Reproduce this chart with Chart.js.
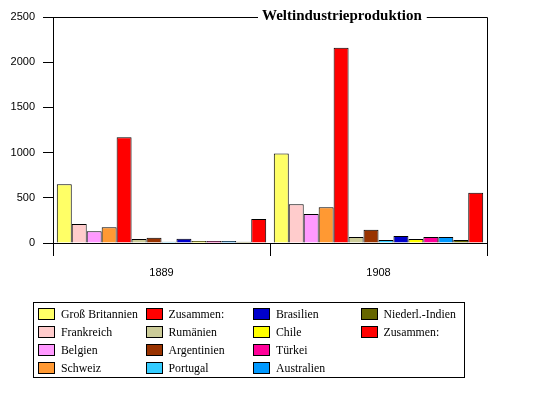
<!DOCTYPE html>
<html>
<head>
<meta charset="utf-8">
<script src="https://cdn.jsdelivr.net/npm/chart.js@4"></script>
<style>
  body { margin: 0; background: #fff; }
  #wrap { position: relative; width: 541px; height: 395px; }
  #legende {
    position: absolute; left: 33px; top: 302px; width: 432px; height: 76px;
    border: 1px solid #000;
    display: grid; grid-template-rows: repeat(4, 18px); grid-template-columns: repeat(4, 107.5px);
    grid-auto-flow: column; padding-top: 4px; padding-left: 4px; box-sizing: border-box;
    font-family: "Liberation Serif", serif; font-size: 11.8px; color: #000;
  }
  #legende div { display: flex; align-items: center; height: 14px; white-space: nowrap; }
  #legende span.box { width: 15px; height: 10px; border: 1px solid #000; margin-right: 6px; flex: none; }
</style>
</head>
<body>
<div id="wrap">
  <canvas id="chart" width="541" height="395"></canvas>
  <div id="legende"></div>
</div>
<script>
// Daten
const jahre = ['1889', '1908'];
const laender = ['Groß Britannien', 'Frankreich', 'Belgien', 'Schweiz', 'Zusammen:', 'Rumänien', 'Argentinien',
  'Portugal', 'Brasilien', 'Chile', 'Türkei', 'Australien', 'Niederl.-Indien', 'Zusammen:'];
const werte1889 = [650, 210, 130, 175, 1170, 45, 58, 14, 47, 22, 22, 22, 14, 265];
const werte1908 = [990, 430, 320, 395, 2160, 66, 147, 33, 77, 44, 66, 66, 33, 555];
const yTicks = [0, 500, 1000, 1500, 2000, 2500];

const farben = ['#ffff66', '#ffcccc', '#ff99ff', '#ff9933', '#ff0000', '#cccc99', '#993300',
  '#33ccff', '#0000cc', '#ffff00', '#ff0099', '#0099ff', '#666600', '#ff0000'];

// Rahmen + Titel
const rahmen = {
  id: 'rahmen',
  afterDraw(chart) {
    const { ctx, chartArea: a } = chart;
    const titel = 'Weltindustrieproduktion';
    ctx.save();
    ctx.font = 'bold 15px "Liberation Serif", serif';
    ctx.fillStyle = '#000';
    ctx.textBaseline = 'middle';
    const tx = 262;
    const tw = ctx.measureText(titel).width;
    ctx.fillText(titel, tx, a.top - 1);
    ctx.strokeStyle = '#000';
    ctx.lineWidth = 1;
    ctx.beginPath();
    ctx.moveTo(a.left, a.top + 0.5);
    ctx.lineTo(tx - 4, a.top + 0.5);
    ctx.moveTo(tx + tw + 5, a.top + 0.5);
    ctx.lineTo(a.right + 0.5, a.top + 0.5);
    ctx.lineTo(a.right + 0.5, a.bottom);
    ctx.stroke();
    ctx.restore();
  }
};

new Chart(document.getElementById('chart'), {
  type: 'bar',
  data: {
    labels: jahre,
    datasets: laender.map((l, i) => ({
      label: l,
      data: [werte1889[i], werte1908[i]],
      backgroundColor: farben[i],
      borderColor: '#000',
      borderWidth: 1,
      categoryPercentage: 0.965,
      barPercentage: 1
    }))
  },
  options: {
    responsive: false,
    animation: false,
    layout: { padding: { left: 0, right: 54, top: 17, bottom: 112 } },
    plugins: { legend: { display: false }, tooltip: { enabled: false } },
    scales: {
      x: {
        afterFit: s => { s.height = 40; },
        grid: { drawOnChartArea: false, tickLength: 13, color: '#000', offset: true },
        border: { color: '#000' },
        ticks: { color: '#000', padding: 10, font: { family: '"Liberation Sans", sans-serif', size: 11 } }
      },
      y: {
        min: 0, max: 2500,
        afterFit: s => { s.width = 53; },
        afterBuildTicks: s => { s.ticks = yTicks.map(v => ({ value: v })); },
        grid: { drawOnChartArea: false, tickLength: 10, color: '#000' },
        border: { color: '#000' },
        ticks: {
          color: '#000', padding: 8,
          font: { family: '"Liberation Sans", sans-serif', size: 11 },
          callback: v => String(v)
        }
      }
    }
  },
  plugins: [rahmen]
});

// Legende (spaltenweise)
const leg = document.getElementById('legende');
laender.forEach((l, i) => {
  const d = document.createElement('div');
  const b = document.createElement('span');
  b.className = 'box';
  b.style.background = farben[i];
  d.appendChild(b);
  d.appendChild(document.createTextNode(l));
  leg.appendChild(d);
});
</script>
</body>
</html>
